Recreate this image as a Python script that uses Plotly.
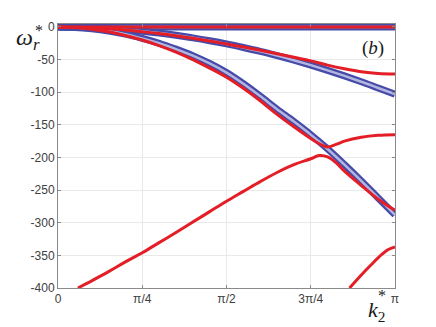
import plotly.graph_objects as go

# k2* in units of pi
k_grid = [0, 0.05, 0.1, 0.15, 0.2, 0.25, 0.3, 0.35, 0.4, 0.45, 0.5,
          0.55, 0.6, 0.65, 0.7, 0.75, 0.8, 0.85, 0.9, 0.95, 1.0]

# circles (analytical branches)
blue_zero = [0] * len(k_grid)
blue_a = [0, -0.3, -1.1, -2.4, -4.2, -6.6, -9.4, -12.8, -16.7, -21.1, -26,
          -31.5, -37.4, -44, -51, -58.5, -66.5, -75, -84, -93.5, -103]
blue_b = [0, -0.7, -2.8, -6.2, -11, -17.5, -25, -34, -44, -56, -70,
          -87, -106, -126, -145, -165, -187, -211, -236, -262, -288]

# red lines (numerical branches)
red_zero = [0] * len(k_grid)
red_a = [0, -0.4, -1.3, -2.8, -4.8, -7.3, -10.2, -13.6, -17.4, -21.5, -26,
         -30.8, -35.8, -41, -46.5, -52, -58.5, -64, -68.5, -71.2, -72]

k_red_b = [0, 0.05, 0.1, 0.15, 0.2, 0.25, 0.3, 0.35, 0.4, 0.45, 0.5, 0.55,
           0.6, 0.65, 0.7, 0.75, 0.775, 0.8, 0.825, 0.85, 0.9, 0.95, 1.0]
red_b = [0, -1, -3.5, -7.5, -13, -20, -28.5, -38.5, -50, -63, -77, -94,
         -113, -134, -153, -171, -179, -184, -180, -175, -169, -166, -165]

k_red_c = [0.059, 0.1, 0.15, 0.2, 0.25, 0.3, 0.35, 0.4, 0.45, 0.5, 0.55, 0.6,
           0.65, 0.7, 0.75, 0.775, 0.8, 0.825, 0.85, 0.9, 0.95, 1.0]
red_c = [-400, -389, -375, -360, -346, -330.5, -315, -299, -283, -267, -252, -237,
         -223, -211, -202, -197, -199, -208, -221, -243, -264, -281]

k_red_d = [0.865, 0.9, 0.93, 0.96, 0.98, 1.0]
red_d = [-400, -380, -364, -349, -341, -337]

y_ticks = [0, -50, -100, -150, -200, -250, -300, -350, -400]
x_ticks = [0, 0.25, 0.5, 0.75, 1.0]
x_labels = ['0', 'π/4', 'π/2', '3π/4', 'π']

BLUE_EDGE = 'rgb(70,74,168)'
BLUE_FILL = 'rgb(178,182,224)'
RED = 'rgb(228,30,38)'

fig = go.Figure()

# circle bands: dark outline with a light core
for ys in [blue_zero, blue_a, blue_b]:
    fig.add_trace(go.Scatter(x=k_grid, y=ys, mode='lines', line_shape='spline',
                             line=dict(color=BLUE_EDGE, width=7)))
    fig.add_trace(go.Scatter(x=k_grid, y=ys, mode='lines', line_shape='spline',
                             line=dict(color=BLUE_FILL, width=2.5)))

for xs, ys in [(k_grid, red_zero), (k_grid, red_a), (k_red_b, red_b),
               (k_red_c, red_c), (k_red_d, red_d)]:
    fig.add_trace(go.Scatter(x=xs, y=ys, mode='lines', line_shape='spline',
                             line=dict(color=RED, width=3)))

axis_style = dict(showline=True, linecolor='#8a8a8a', linewidth=1, mirror='ticks',
                  ticks='inside', ticklen=3, tickcolor='#8a8a8a',
                  showgrid=True, gridcolor='#e9e9e9', gridwidth=1, zeroline=False,
                  tickfont=dict(family='Liberation Sans', size=12, color='#404040'))

fig.update_xaxes(range=[0, 1], tickvals=x_ticks, ticktext=x_labels, **axis_style)
fig.update_yaxes(range=[-400, 4.5], tickvals=y_ticks,
                 ticktext=[str(v) for v in y_ticks], **axis_style)

serif = dict(family='Liberation Serif', color='#1a1a1a')
labels = [
    (0.935, 0.91, '(<i>b</i>)', 19),
    (-0.088, 0.942, '<i>ω</i><sub><i>r</i></sub>', 24),
    (-0.056, 0.975, '*', 16),
    (0.944, -0.088, '<i>k</i><sub>2</sub>', 22),
    (0.962, -0.03, '*', 16),
]
for x, y, text, size in labels:
    fig.add_annotation(x=x, y=y, xref='paper', yref='paper', showarrow=False,
                       xanchor='center', yanchor='middle',
                       text=text, font=dict(size=size, **serif))

# the page body adds 8px on the left and top, so margins are shifted by that
fig.update_layout(width=436, height=327, showlegend=False,
                  plot_bgcolor='white', paper_bgcolor='white',
                  margin=dict(l=50, r=49, t=13, b=47))

fig.write_html("out.html")
